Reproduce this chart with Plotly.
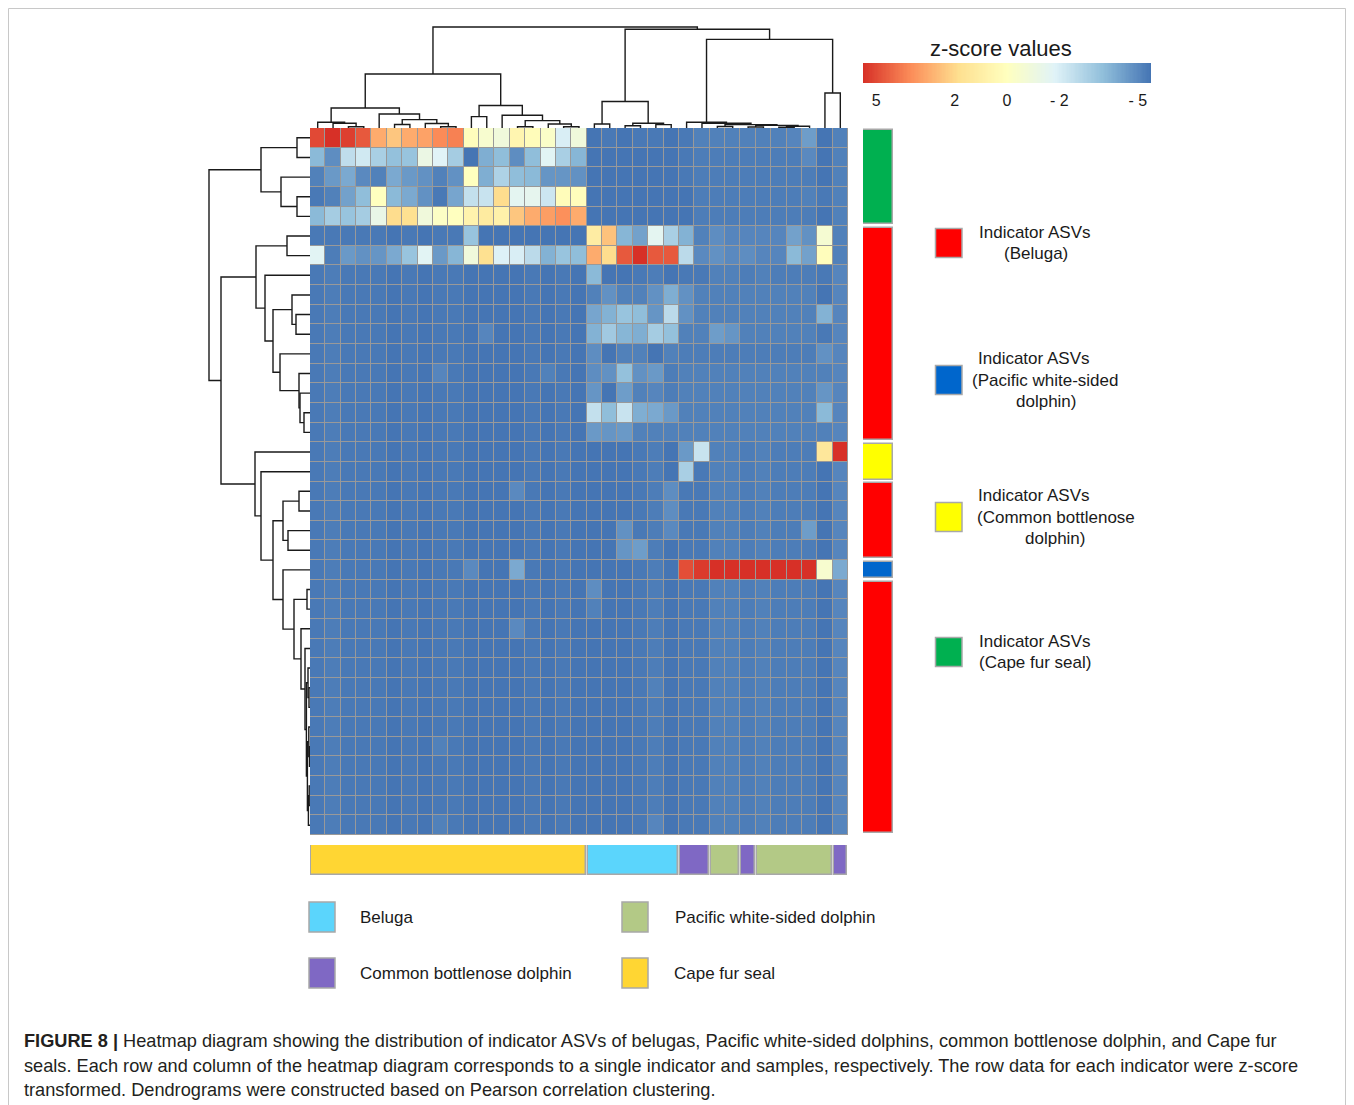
import plotly.graph_objects as go

W, H = 1354, 1105
FONT = "Liberation Sans, Arial, Helvetica, sans-serif"

# ---- z-scored abundance: 36 indicator ASVs (rows) x 35 samples (columns), clustered order ----
zscores = [
    [5.0, 5.5, 5.2, 4.7, 3.0, 2.4, 3.0, 3.2, 3.7, 3.9, 0.1, -0.5, -0.9, 0.6, 0.2, -0.3, -2.0, -0.9, -5.5, -5.4, -5.6, -5.4, -5.4, -5.5, -5.4, -5.2, -5.2, -5.2, -5.2, -5.2, -5.2, -5.1, -4.5, -5.6, -5.2],
    [-3.8, -4.9, -2.6, -2.2, -3.1, -3.6, -3.5, -1.2, -1.8, -3.2, -5.6, -4.1, -3.7, -4.9, -3.7, -1.7, -3.1, -3.9, -5.5, -5.5, -5.6, -5.5, -5.5, -5.5, -5.4, -5.3, -5.3, -5.3, -5.3, -5.3, -5.3, -5.3, -5.0, -5.5, -5.2],
    [-5.2, -4.6, -4.2, -5.0, -5.2, -4.2, -4.6, -4.8, -5.2, -4.8, 0.0, -4.1, -3.0, -3.7, -3.8, -4.7, -4.7, -4.8, -5.5, -5.5, -5.6, -5.5, -5.5, -5.5, -5.4, -5.3, -5.3, -5.3, -5.3, -5.3, -5.3, -5.3, -5.3, -5.5, -5.2],
    [-5.4, -5.2, -4.4, -3.7, 0.0, -3.8, -4.2, -4.8, -5.4, -4.3, -2.5, -2.4, 1.9, -1.6, -1.5, -2.3, 0.2, 0.1, -5.5, -5.5, -5.6, -5.5, -5.5, -5.5, -5.5, -5.3, -5.3, -5.3, -5.3, -5.3, -5.3, -5.3, -5.2, -5.4, -5.2],
    [-3.8, -3.2, -3.5, -3.2, -1.3, 1.9, 1.8, -0.9, -0.2, 0.0, 0.7, 1.2, 0.8, 2.4, 3.0, 3.3, 3.6, 3.0, -5.5, -5.5, -5.6, -5.5, -5.5, -5.5, -5.5, -5.3, -5.3, -5.3, -5.3, -5.3, -5.3, -5.3, -5.3, -5.6, -5.2],
    [-5.4, -5.4, -5.4, -5.4, -5.4, -5.5, -5.4, -5.5, -5.4, -5.4, -3.5, -5.5, -5.6, -5.5, -5.5, -5.5, -5.5, -5.5, 1.1, 2.5, -3.9, -4.4, -1.6, -3.1, -4.0, -5.2, -4.9, -5.1, -5.1, -5.1, -5.1, -4.4, -4.8, -0.6, -5.2],
    [-1.7, -5.3, -4.6, -4.8, -4.7, -4.2, -3.5, -1.7, -4.6, -3.9, -0.9, 1.8, -1.9, -2.0, -2.7, -4.0, -3.5, -3.7, 3.0, 1.9, 4.7, 5.5, 4.7, 4.7, -2.7, -5.0, -4.8, -5.0, -4.9, -5.1, -5.1, -3.8, -4.4, 0.1, -5.2],
    [-5.4, -5.3, -5.4, -5.4, -5.4, -5.5, -5.4, -5.5, -5.4, -5.4, -5.6, -5.5, -5.6, -5.5, -5.4, -5.5, -5.4, -5.5, -3.8, -5.5, -5.5, -5.4, -5.3, -5.6, -5.4, -5.4, -5.2, -5.2, -5.3, -5.2, -5.3, -5.3, -5.3, -5.4, -5.1],
    [-5.4, -5.3, -5.4, -5.4, -5.4, -5.5, -5.4, -5.5, -5.4, -5.4, -5.6, -5.5, -5.6, -5.5, -5.4, -5.5, -5.4, -5.5, -5.2, -4.8, -5.2, -5.2, -4.8, -4.1, -4.8, -5.2, -5.2, -5.2, -5.2, -5.2, -5.2, -5.2, -5.2, -5.5, -5.1],
    [-5.4, -5.3, -5.4, -5.4, -5.4, -5.5, -5.4, -5.5, -5.4, -5.4, -5.6, -5.5, -5.6, -5.5, -5.4, -5.5, -5.4, -5.5, -4.3, -4.0, -3.5, -3.7, -4.7, -2.7, -4.8, -5.2, -5.2, -5.2, -5.2, -5.2, -5.2, -5.2, -5.2, -4.0, -5.1],
    [-5.4, -5.3, -5.4, -5.4, -5.4, -5.5, -5.4, -5.5, -5.4, -5.4, -5.6, -5.1, -5.6, -5.5, -5.4, -5.5, -5.4, -5.5, -4.0, -3.3, -3.9, -4.1, -3.2, -3.6, -5.2, -5.2, -4.5, -4.7, -5.2, -5.2, -5.2, -5.2, -5.2, -5.4, -5.1],
    [-5.4, -5.3, -5.4, -5.4, -5.4, -5.5, -5.4, -5.5, -5.4, -5.4, -5.6, -5.5, -5.6, -5.5, -5.4, -5.5, -5.4, -5.5, -4.9, -5.5, -5.2, -5.2, -5.5, -5.2, -5.3, -5.3, -5.3, -5.3, -5.3, -5.3, -5.3, -5.3, -5.3, -4.8, -5.1],
    [-5.4, -5.3, -5.4, -5.4, -5.4, -5.5, -5.4, -5.5, -5.1, -5.4, -5.6, -5.5, -5.6, -5.5, -5.4, -5.2, -5.4, -5.5, -4.9, -4.8, -3.6, -4.8, -4.6, -5.3, -5.2, -5.2, -5.2, -5.2, -5.2, -5.2, -5.2, -5.2, -5.2, -5.2, -5.1],
    [-5.4, -5.3, -5.4, -5.4, -5.4, -5.5, -5.4, -5.5, -5.4, -5.4, -5.6, -5.5, -5.6, -5.5, -5.4, -5.5, -5.4, -5.5, -4.7, -5.5, -4.5, -5.2, -5.1, -5.3, -5.2, -5.2, -5.2, -5.2, -5.2, -5.2, -5.2, -5.2, -5.2, -4.7, -5.1],
    [-5.4, -5.3, -5.4, -5.4, -5.4, -5.5, -5.4, -5.5, -5.4, -5.4, -5.6, -5.5, -5.6, -5.5, -5.4, -5.5, -5.4, -5.5, -2.5, -3.7, -2.4, -4.1, -4.2, -4.6, -5.2, -5.2, -5.2, -5.2, -5.2, -5.2, -5.2, -5.2, -5.2, -3.8, -5.1],
    [-5.4, -5.3, -5.4, -5.4, -5.4, -5.5, -5.4, -5.5, -5.4, -5.4, -5.6, -5.5, -5.6, -5.5, -5.4, -5.5, -5.4, -5.5, -4.6, -4.7, -4.6, -5.2, -5.2, -5.2, -5.2, -5.2, -5.2, -5.2, -5.2, -5.2, -5.2, -5.2, -5.2, -5.2, -5.1],
    [-5.4, -5.3, -5.4, -5.4, -5.4, -5.5, -5.4, -5.5, -5.4, -5.4, -5.6, -5.5, -5.6, -5.5, -5.4, -5.5, -5.4, -5.5, -5.6, -5.5, -5.5, -5.4, -5.3, -5.6, -4.6, -2.4, -5.2, -5.2, -5.3, -5.2, -5.3, -5.3, -5.3, 1.4, 5.5],
    [-5.4, -5.3, -5.4, -5.4, -5.4, -5.5, -5.4, -5.5, -5.4, -5.4, -5.6, -5.5, -5.6, -5.5, -5.4, -5.5, -5.4, -5.5, -5.6, -5.5, -5.5, -5.4, -5.3, -5.6, -3.1, -5.4, -5.2, -5.2, -5.3, -5.2, -5.3, -5.3, -5.3, -5.6, -5.1],
    [-5.4, -5.3, -5.4, -5.4, -5.4, -5.5, -5.4, -5.5, -5.4, -5.4, -5.6, -5.5, -5.6, -5.0, -5.4, -5.5, -5.4, -5.5, -5.6, -5.5, -5.5, -5.4, -5.3, -4.9, -5.4, -5.4, -5.2, -5.2, -5.3, -5.2, -5.3, -5.3, -5.3, -5.6, -5.1],
    [-5.4, -5.3, -5.4, -5.4, -5.4, -5.5, -5.4, -5.5, -5.4, -5.4, -5.6, -5.5, -5.6, -5.5, -5.4, -5.5, -5.4, -5.5, -5.6, -5.5, -5.5, -5.4, -5.3, -4.9, -5.4, -5.4, -5.2, -5.2, -5.3, -5.2, -5.3, -5.3, -5.3, -5.6, -5.1],
    [-5.4, -5.3, -5.4, -5.4, -5.4, -5.5, -5.4, -5.5, -5.4, -5.4, -5.6, -5.5, -5.6, -5.5, -5.4, -5.5, -5.4, -5.5, -5.6, -5.5, -4.8, -5.4, -5.3, -5.0, -5.4, -5.4, -5.2, -5.2, -5.3, -5.2, -5.3, -5.3, -4.5, -5.6, -5.1],
    [-5.4, -5.3, -5.4, -5.4, -5.4, -5.5, -5.4, -5.5, -5.4, -5.4, -5.6, -5.5, -5.6, -5.5, -5.4, -5.5, -5.4, -5.5, -5.6, -5.5, -4.7, -4.5, -5.3, -5.6, -5.4, -5.4, -5.2, -5.2, -5.3, -5.2, -5.3, -5.3, -5.3, -5.6, -5.1],
    [-5.4, -5.3, -5.4, -5.4, -5.4, -5.5, -5.4, -5.5, -5.4, -5.4, -5.0, -5.5, -5.6, -4.2, -5.4, -5.5, -5.4, -5.5, -5.6, -5.5, -5.5, -5.4, -5.3, -5.6, 4.9, 5.3, 5.5, 5.5, 5.5, 5.5, 5.5, 5.5, 5.5, -0.5, -4.2],
    [-5.4, -5.3, -5.4, -5.4, -5.4, -5.5, -5.4, -5.5, -5.4, -5.4, -5.6, -5.5, -5.6, -5.5, -5.4, -5.5, -5.4, -5.5, -4.9, -5.5, -5.5, -5.4, -5.3, -5.6, -5.4, -5.4, -5.2, -5.2, -5.3, -5.2, -5.3, -5.3, -5.3, -5.6, -5.1],
    [-5.4, -5.3, -5.4, -5.4, -5.4, -5.5, -5.4, -5.5, -5.4, -5.4, -5.6, -5.5, -5.6, -5.5, -5.4, -5.5, -5.4, -5.5, -5.2, -5.5, -5.5, -5.4, -5.3, -5.6, -5.4, -5.4, -5.2, -5.2, -5.3, -5.2, -5.3, -5.3, -5.3, -5.6, -5.1],
    [-5.4, -5.3, -5.4, -5.4, -5.4, -5.5, -5.4, -5.5, -5.4, -5.4, -5.6, -5.5, -5.6, -5.0, -5.4, -5.5, -5.4, -5.5, -5.6, -5.5, -5.5, -5.4, -5.3, -5.6, -5.4, -5.4, -5.2, -5.2, -5.3, -5.2, -5.3, -5.3, -5.3, -5.6, -5.1],
    [-5.4, -5.3, -5.4, -5.4, -5.4, -5.5, -5.4, -5.5, -5.4, -5.4, -5.6, -5.5, -5.6, -5.5, -5.4, -5.5, -5.4, -5.5, -5.6, -5.5, -5.5, -5.4, -5.3, -5.6, -5.4, -5.4, -5.2, -5.2, -5.3, -5.2, -5.3, -5.3, -5.3, -5.6, -5.1],
    [-5.4, -5.3, -5.4, -5.4, -5.4, -5.5, -5.4, -5.5, -5.4, -5.4, -5.6, -5.5, -5.6, -5.5, -5.4, -5.5, -5.4, -5.5, -5.6, -5.5, -5.5, -5.4, -5.3, -5.6, -5.4, -5.4, -5.2, -5.2, -5.3, -5.2, -5.3, -5.3, -5.3, -5.6, -5.1],
    [-5.4, -5.3, -5.4, -5.4, -5.4, -5.5, -5.4, -5.5, -5.4, -5.4, -5.6, -5.5, -5.6, -5.5, -5.4, -5.5, -5.4, -5.5, -5.6, -5.5, -5.5, -5.4, -5.2, -5.6, -5.4, -5.4, -5.2, -5.2, -5.3, -5.2, -5.3, -5.3, -5.3, -5.6, -5.1],
    [-5.4, -5.3, -5.4, -5.4, -5.4, -5.5, -5.4, -5.5, -5.4, -5.4, -5.6, -5.5, -5.6, -5.5, -5.4, -5.5, -5.4, -5.5, -5.6, -5.5, -5.5, -5.4, -5.3, -5.6, -5.4, -5.4, -5.2, -5.2, -5.3, -5.2, -5.3, -5.3, -5.3, -5.6, -5.1],
    [-5.4, -5.3, -5.4, -5.4, -5.4, -5.5, -5.4, -5.5, -5.4, -5.4, -5.6, -5.5, -5.6, -5.5, -5.4, -5.5, -5.4, -5.5, -5.6, -5.5, -5.5, -5.4, -5.3, -5.6, -5.4, -5.4, -5.2, -5.2, -5.3, -5.2, -5.3, -5.3, -5.3, -5.6, -5.1],
    [-5.4, -5.3, -5.4, -5.4, -5.4, -5.5, -5.4, -5.5, -5.2, -5.4, -5.6, -5.5, -5.6, -5.5, -5.4, -5.5, -5.4, -5.5, -5.6, -5.5, -5.5, -5.4, -5.3, -5.6, -5.4, -5.4, -5.2, -5.2, -5.3, -5.2, -5.3, -5.3, -5.3, -5.6, -5.1],
    [-5.4, -5.3, -5.4, -5.4, -5.4, -5.5, -5.4, -5.5, -5.4, -5.4, -5.6, -5.5, -5.6, -5.5, -5.4, -5.5, -5.4, -5.5, -5.6, -5.5, -5.5, -5.4, -5.3, -5.6, -5.4, -5.4, -5.2, -5.2, -5.3, -5.2, -5.3, -5.3, -5.3, -5.6, -5.1],
    [-5.4, -5.3, -5.4, -5.4, -5.4, -5.5, -5.4, -5.5, -5.4, -5.4, -5.6, -5.5, -5.6, -5.5, -5.4, -5.5, -5.4, -5.5, -5.6, -5.5, -5.5, -5.4, -5.3, -5.6, -5.4, -5.4, -5.2, -5.2, -5.3, -5.2, -5.3, -5.3, -5.3, -5.6, -5.1],
    [-5.4, -5.3, -5.4, -5.4, -5.4, -5.5, -5.4, -5.5, -5.4, -5.4, -5.6, -5.5, -5.6, -5.5, -5.4, -5.5, -5.4, -5.5, -5.6, -5.5, -5.5, -5.4, -5.3, -5.6, -5.4, -5.4, -5.2, -5.2, -5.3, -5.2, -5.3, -5.3, -5.3, -5.6, -5.1],
    [-5.4, -5.3, -5.4, -5.4, -5.4, -5.5, -5.4, -5.5, -5.2, -5.4, -5.6, -5.5, -5.6, -5.5, -5.4, -5.5, -5.4, -5.5, -5.6, -5.5, -5.5, -5.4, -5.1, -5.6, -5.4, -5.4, -5.2, -5.2, -5.3, -5.2, -5.3, -5.3, -5.3, -5.6, -5.1],
]

# indicator host of each ASV row, and host of each sample column
row_hosts = ["CFS", "CFS", "CFS", "CFS", "CFS",
             "BEL", "BEL", "BEL", "BEL", "BEL", "BEL", "BEL", "BEL", "BEL", "BEL", "BEL",
             "CBD", "CBD",
             "BEL", "BEL", "BEL", "BEL",
             "PWS",
             "BEL", "BEL", "BEL", "BEL", "BEL", "BEL", "BEL", "BEL", "BEL", "BEL", "BEL", "BEL", "BEL"]
col_hosts = ["CFS", "CFS", "CFS", "CFS", "CFS", "CFS", "CFS", "CFS", "CFS", "CFS",
             "CFS", "CFS", "CFS", "CFS", "CFS", "CFS", "CFS", "CFS",
             "BEL", "BEL", "BEL", "BEL", "BEL", "BEL",
             "CBD", "CBD", "PWS", "PWS", "CBD",
             "PWS", "PWS", "PWS", "PWS", "PWS", "CBD"]

row_host_colors = {"BEL": "#FF0000", "PWS": "#0066CC", "CBD": "#FFFF00", "CFS": "#00B050"}
col_host_colors = {"BEL": "#5BD5FC", "PWS": "#B3C986", "CBD": "#7F68C4", "CFS": "#FFD633"}

# dendrograms: (left, right, merge height); leaves are positions in the clustered order
col_tree = (
    (((0, (1, (2, 3, 1.3), 4.7), 5.7),
      (4, ((5, 6, 3.5), (7, (8, 9, 1.3), 4.5), 8.4), 14.0), 20.0),
     ((10, 11, 11.4), (12, ((13, 14, 1.3), (15, (16, 17, 1.3), 4.0), 7.4), 12.8), 22.5), 54.0),
    (((18, 19, 4.0), ((20, 21, 2.3), (22, 23, 3.4), 4.7), 26.5),
     ((24, (25, ((26, 27, 1.5), ((28, 29, 1.0), ((30, 31, 0.8), 32, 1.8), 2.6), 3.4), 4.7), 5.7),
      (33, 34, 35.0), 88.6), 98.7),
    101.0,
)

row_tree = (
    ((0, 1, 13.0), (2, (3, 4, 13.0), 29.0), 49.0),
    (
        ((5, 6, 23.0),
         (7, ((8, (9, 10, 14.0), 18.0), (11, (12, (13, (14, 15, 6.0), 10.0), 11.0), 30.0), 37.0), 45.0),
         54.0),
        (16,
         (17,
          (((18, 19, 11.0), (20, 21, 22.0), 27.0),
           (22, ((23, 24, 3.0),
                 (25, (26, ((27, (28, 29, 1.0), 2.0), ((30, (31, 32, 0.5), 1.2), ((33, 34, 0.8), 35, 1.6), 2.6), 3.6), 5.0), 9.0),
                 16.0), 27.0),
           37.0),
          49.0),
         55.0),
        89.0,
    ),
    101.0,
)

# colour legend
legend_ticks = [5, 2, 0, -2, -5]
legend_ticktext = ["5", "2", "0", "- 2", "- 5"]
ZMIN, ZMAX = -5.5, 5.5
colorscale = [[0.0, "#4575B4"], [1 / 6, "#91BFDB"], [2 / 6, "#E0F3F8"], [3 / 6, "#FFFFBF"],
              [4 / 6, "#FEE090"], [5 / 6, "#FC8D59"], [1.0, "#D73027"]]

n_rows, n_cols = len(zscores), len(zscores[0])


def px_x(x):
    return x / W


def px_y(y):
    return 1 - y / H


def dendro_lines(node, xs, ys, horizontal_leaves=True):
    """Walk a merge tree, returning (position, height) and collecting elbow segments."""
    if isinstance(node, int):
        return float(node), 0.0
    left, right, h = node
    pl, hl = dendro_lines(left, xs, ys, horizontal_leaves)
    pr, hr = dendro_lines(right, xs, ys, horizontal_leaves)
    pos = [pl, pl, pr, pr, None]
    hts = [hl, h, h, hr, None]
    if horizontal_leaves:
        xs += pos
        ys += hts
    else:
        xs += hts
        ys += pos
    return (pl + pr) / 2, h


def runs(labels):
    out = []
    start = 0
    for i in range(1, len(labels) + 1):
        if i == len(labels) or labels[i] != labels[start]:
            out.append((labels[start], start, i - start))
            start = i
    return out


fig = go.Figure()

# heatmap body
fig.add_trace(go.Heatmap(
    z=zscores, x=list(range(n_cols)), y=list(range(n_rows)),
    colorscale=colorscale, zmin=ZMIN, zmax=ZMAX, showscale=False,
    xgap=1, ygap=1, hoverinfo="skip", xaxis="x", yaxis="y",
))

# column dendrogram
cx, cy = [], []
dendro_lines(col_tree, cx, cy, True)
fig.add_trace(go.Scatter(x=cx, y=cy, mode="lines", line=dict(color="#1a1a1a", width=1.4),
                         hoverinfo="skip", xaxis="x2", yaxis="y2", showlegend=False))

# row dendrogram
rx, ry = [], []
dendro_lines(row_tree, rx, ry, False)
fig.add_trace(go.Scatter(x=rx, y=ry, mode="lines", line=dict(color="#1a1a1a", width=1.4),
                         hoverinfo="skip", xaxis="x3", yaxis="y3", showlegend=False))

# row annotation bar (indicator host)
rr = runs(row_hosts)
ROW_GAP = 0.1
fig.add_trace(go.Bar(
    x=[0] * len(rr), y=[n - 2 * ROW_GAP for _, _, n in rr],
    base=[s - 0.5 + ROW_GAP for _, s, _ in rr], width=1, orientation="v",
    marker=dict(color=[row_host_colors[g] for g, _, _ in rr], line=dict(color="#A8A8A8", width=1.5)),
    hoverinfo="skip", xaxis="x4", yaxis="y4", showlegend=False, cliponaxis=False,
))

# column annotation bar (sample host)
cr = runs(col_hosts)
COL_GAP = 0.07
fig.add_trace(go.Bar(
    y=[0] * len(cr), x=[n - 2 * COL_GAP for _, _, n in cr],
    base=[s - 0.5 + COL_GAP for _, s, _ in cr], width=1, orientation="h",
    marker=dict(color=[col_host_colors[g] for g, _, _ in cr], line=dict(color="#A8A8A8", width=1.5)),
    hoverinfo="skip", xaxis="x5", yaxis="y5", showlegend=False, cliponaxis=False,
))

# colour ramp for the z-score legend
ramp_steps = 220
ramp = [ZMAX - (ZMAX - ZMIN) * i / (ramp_steps - 1) for i in range(ramp_steps)]
fig.add_trace(go.Heatmap(
    z=[ramp], x=ramp, y=[0], colorscale=colorscale, zmin=ZMIN, zmax=ZMAX,
    showscale=False, hoverinfo="skip", xaxis="x6", yaxis="y6",
))

hidden = dict(showgrid=False, zeroline=False, showticklabels=False, ticks="", showline=False, fixedrange=True)
hm_xdom = [px_x(310), px_x(848)]
hm_ydom = [px_y(835), px_y(128)]
col_range = [-0.5, n_cols - 0.5]
row_range = [n_rows - 0.5, -0.5]

fig.update_layout(
    width=W, height=H, margin=dict(l=0, r=0, t=0, b=0),
    paper_bgcolor="white", plot_bgcolor="rgba(0,0,0,0)",
    barmode="overlay", bargap=0, showlegend=False,
    font=dict(family=FONT, color="#1a1a1a"),
    xaxis=dict(domain=hm_xdom, range=col_range, **hidden),
    yaxis=dict(domain=hm_ydom, range=row_range, **hidden),
    xaxis2=dict(domain=hm_xdom, range=col_range, anchor="y2", **hidden),
    yaxis2=dict(domain=[px_y(128), px_y(20)], range=[0, 108], anchor="x2", **hidden),
    xaxis3=dict(domain=[px_x(202), px_x(310)], range=[108, 0], anchor="y3", **hidden),
    yaxis3=dict(domain=hm_ydom, range=row_range, anchor="x3", **hidden),
    xaxis4=dict(domain=[px_x(863), px_x(893)], range=[-0.5, 0.5], anchor="y4", **hidden),
    yaxis4=dict(domain=hm_ydom, range=row_range, anchor="x4", **hidden),
    xaxis5=dict(domain=hm_xdom, range=col_range, anchor="y5", **hidden),
    yaxis5=dict(domain=[px_y(875), px_y(845)], range=[-0.5, 0.5], anchor="x5", **hidden),
    xaxis6=dict(domain=[px_x(863), px_x(1151)], range=[ZMAX, ZMIN], anchor="y6",
                showgrid=False, zeroline=False, showline=False, ticks="",
                tickmode="array", tickvals=legend_ticks, ticktext=legend_ticktext,
                tickfont=dict(size=16, color="#1a1a1a", family=FONT), ticklabelstandoff=6, fixedrange=True),
    yaxis6=dict(domain=[px_y(83), px_y(63)], range=[-0.5, 0.5], anchor="x6", **hidden),
)

shapes = []
# grey grid behind the heatmap cells
shapes.append(dict(type="rect", xref="x", yref="y", x0=-0.5, x1=n_cols - 0.5, y0=-0.5, y1=n_rows - 0.5,
                   fillcolor="#999999", line=dict(color="#999999", width=1), layer="below"))
# figure frame
shapes.append(dict(type="rect", xref="paper", yref="paper", x0=px_x(8.5), x1=px_x(1345.5),
                   y0=px_y(1130), y1=px_y(8.5), line=dict(color="#C8C8C8", width=1), fillcolor="rgba(0,0,0,0)"))

annotations = [dict(text="z-score values", x=px_x(1001), y=px_y(49), xref="paper", yref="paper",
                    showarrow=False, xanchor="center", yanchor="middle", font=dict(size=22))]

# legend for the indicator (row) colours
row_legend = [
    ("BEL", 243, ["Indicator ASVs", "(Beluga)"], [1035, 1036]),
    ("PWS", 380, ["Indicator ASVs", "(Pacific white-sided", "dolphin)"], [1034, 1045, 1046]),
    ("CBD", 517, ["Indicator ASVs", "(Common bottlenose", "dolphin)"], [1034, 1056, 1055]),
    ("CFS", 652, ["Indicator ASVs", "(Cape fur seal)"], [1035, 1035]),
]
for key, yc, lines, xcs in row_legend:
    shapes.append(dict(type="rect", xref="paper", yref="paper", x0=px_x(935.5), x1=px_x(962),
                       y0=px_y(yc + 14.5), y1=px_y(yc - 14.5), fillcolor=row_host_colors[key],
                       line=dict(color="#A8A8A8", width=1.5)))
    y0 = yc - (len(lines) - 1) * 10.5
    for i, (t, xc) in enumerate(zip(lines, xcs)):
        annotations.append(dict(text=t, x=px_x(xc), y=px_y(y0 + i * 21), xref="paper", yref="paper",
                                showarrow=False, xanchor="center", yanchor="middle", font=dict(size=17)))

# legend for the sample (column) colours
col_legend = [
    ("BEL", "Beluga", 309, 358, 917),
    ("PWS", "Pacific white-sided dolphin", 622, 673, 917),
    ("CBD", "Common bottlenose dolphin", 309, 358, 973),
    ("CFS", "Cape fur seal", 622, 672, 973),
]
for key, label, xs, xt, yc in col_legend:
    shapes.append(dict(type="rect", xref="paper", yref="paper", x0=px_x(xs), x1=px_x(xs + 26),
                       y0=px_y(yc + 15), y1=px_y(yc - 15), fillcolor=col_host_colors[key],
                       line=dict(color="#A8A8A8", width=1.5)))
    annotations.append(dict(text=label, x=px_x(xt), y=px_y(yc), xref="paper", yref="paper",
                            showarrow=False, xanchor="left", yanchor="middle", font=dict(size=17)))

caption = [
    "<b>FIGURE 8 |</b> Heatmap diagram showing the distribution of indicator ASVs of belugas, Pacific white-sided dolphins, common bottlenose dolphin, and Cape fur",
    "seals. Each row and column of the heatmap diagram corresponds to a single indicator and samples, respectively. The row data for each indicator were z-score",
    "transformed. Dendrograms were constructed based on Pearson correlation clustering.",
]
for i, line in enumerate(caption):
    annotations.append(dict(text=line, x=px_x(22), y=px_y(1041 + i * 24.5), xref="paper", yref="paper",
                            showarrow=False, xanchor="left", yanchor="middle",
                            font=dict(size=18.2, color="#231F20")))

fig.update_layout(shapes=shapes, annotations=annotations)
fig.write_html("out.html")
